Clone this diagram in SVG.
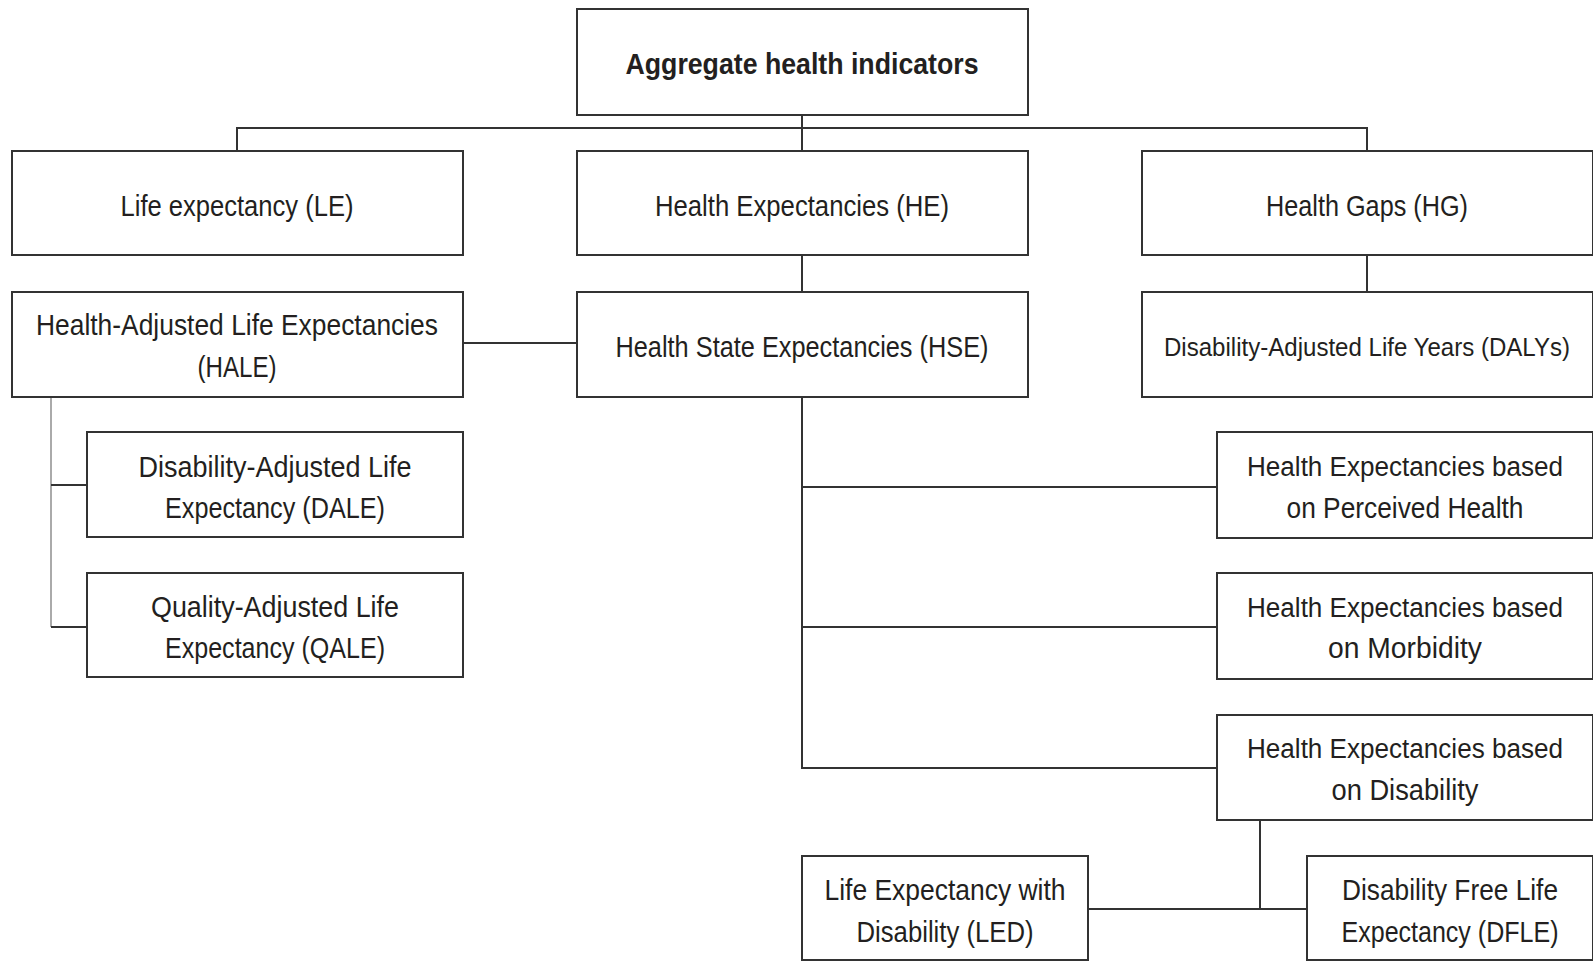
<svg xmlns="http://www.w3.org/2000/svg" width="1593" height="962" viewBox="0 0 1593 962">
<style>
.box{fill:#fff;stroke:#333;stroke-width:2}
.ln{fill:none;stroke:#333;stroke-width:2}
.lg{fill:none;stroke:#aaa;stroke-width:2}
text{font-family:"Liberation Sans Narrow","Liberation Sans",Arial,sans-serif;font-size:29px;fill:#231f20;text-anchor:middle}
.b{font-weight:bold}
.s{font-size:27px}
.xs{font-size:25px}
</style>
<rect width="1593" height="962" fill="#fff"/>
<g id="connectors">
<path class="ln" d="M802 115V151M237 151V128H1367V151"/>
<path class="ln" d="M802 255V292M1367 255V292"/>
<path class="ln" d="M463 343H577"/>
<path class="lg" d="M51 397V627"/>
<path class="ln" d="M51 485H87M51 627H87"/>
<path class="ln" d="M802 397V768H1217M802 487H1217M802 627H1217"/>
<path class="ln" d="M1260 820V909M1088 909H1307"/>
</g>
<g id="n-aggregate"><rect class="box" x="577" y="9" width="451" height="106"/><text class="b" x="802" y="74" textLength="353" lengthAdjust="spacingAndGlyphs">Aggregate health indicators</text></g>
<g id="n-le"><rect class="box" x="12" y="151" width="451" height="104"/><text x="237" y="216" textLength="233" lengthAdjust="spacingAndGlyphs">Life expectancy (LE)</text></g>
<g id="n-he"><rect class="box" x="577" y="151" width="451" height="104"/><text x="802" y="216" textLength="294" lengthAdjust="spacingAndGlyphs">Health Expectancies (HE)</text></g>
<g id="n-hg"><rect class="box" x="1142" y="151" width="451" height="104"/><text x="1367" y="216" textLength="202" lengthAdjust="spacingAndGlyphs">Health Gaps (HG)</text></g>
<g id="n-hale"><rect class="box" x="12" y="292" width="451" height="105"/><text x="237" y="335" textLength="402" lengthAdjust="spacingAndGlyphs">Health-Adjusted Life Expectancies</text><text x="237" y="377" textLength="79" lengthAdjust="spacingAndGlyphs">(HALE)</text></g>
<g id="n-hse"><rect class="box" x="577" y="292" width="451" height="105"/><text x="802" y="357" textLength="373" lengthAdjust="spacingAndGlyphs">Health State Expectancies (HSE)</text></g>
<g id="n-dalys"><rect class="box" x="1142" y="292" width="451" height="105"/><text class="xs" x="1367" y="356" textLength="406" lengthAdjust="spacingAndGlyphs">Disability-Adjusted Life Years (DALYs)</text></g>
<g id="n-dale"><rect class="box" x="87" y="432" width="376" height="105"/><text x="275" y="477" textLength="273" lengthAdjust="spacingAndGlyphs">Disability-Adjusted Life</text><text x="275" y="518" textLength="220" lengthAdjust="spacingAndGlyphs">Expectancy (DALE)</text></g>
<g id="n-qale"><rect class="box" x="87" y="573" width="376" height="104"/><text x="275" y="617" textLength="248" lengthAdjust="spacingAndGlyphs">Quality-Adjusted Life</text><text x="275" y="658" textLength="220" lengthAdjust="spacingAndGlyphs">Expectancy (QALE)</text></g>
<g id="n-perceived"><rect class="box" x="1217" y="432" width="376" height="106"/><text class="s" x="1405" y="476" textLength="316" lengthAdjust="spacingAndGlyphs">Health Expectancies based</text><text x="1405" y="518" textLength="237" lengthAdjust="spacingAndGlyphs">on Perceived Health</text></g>
<g id="n-morbidity"><rect class="box" x="1217" y="573" width="376" height="106"/><text class="s" x="1405" y="617" textLength="316" lengthAdjust="spacingAndGlyphs">Health Expectancies based</text><text x="1405" y="658" textLength="154" lengthAdjust="spacingAndGlyphs">on Morbidity</text></g>
<g id="n-disability"><rect class="box" x="1217" y="715" width="376" height="105"/><text class="s" x="1405" y="758" textLength="316" lengthAdjust="spacingAndGlyphs">Health Expectancies based</text><text x="1405" y="800" textLength="147" lengthAdjust="spacingAndGlyphs">on Disability</text></g>
<g id="n-led"><rect class="box" x="802" y="856" width="286" height="104"/><text x="945" y="900" textLength="241" lengthAdjust="spacingAndGlyphs">Life Expectancy with</text><text x="945" y="942" textLength="177" lengthAdjust="spacingAndGlyphs">Disability (LED)</text></g>
<g id="n-dfle"><rect class="box" x="1307" y="856" width="286" height="104"/><text x="1450" y="900" textLength="216" lengthAdjust="spacingAndGlyphs">Disability Free Life</text><text x="1450" y="942" textLength="217" lengthAdjust="spacingAndGlyphs">Expectancy (DFLE)</text></g>
</svg>
